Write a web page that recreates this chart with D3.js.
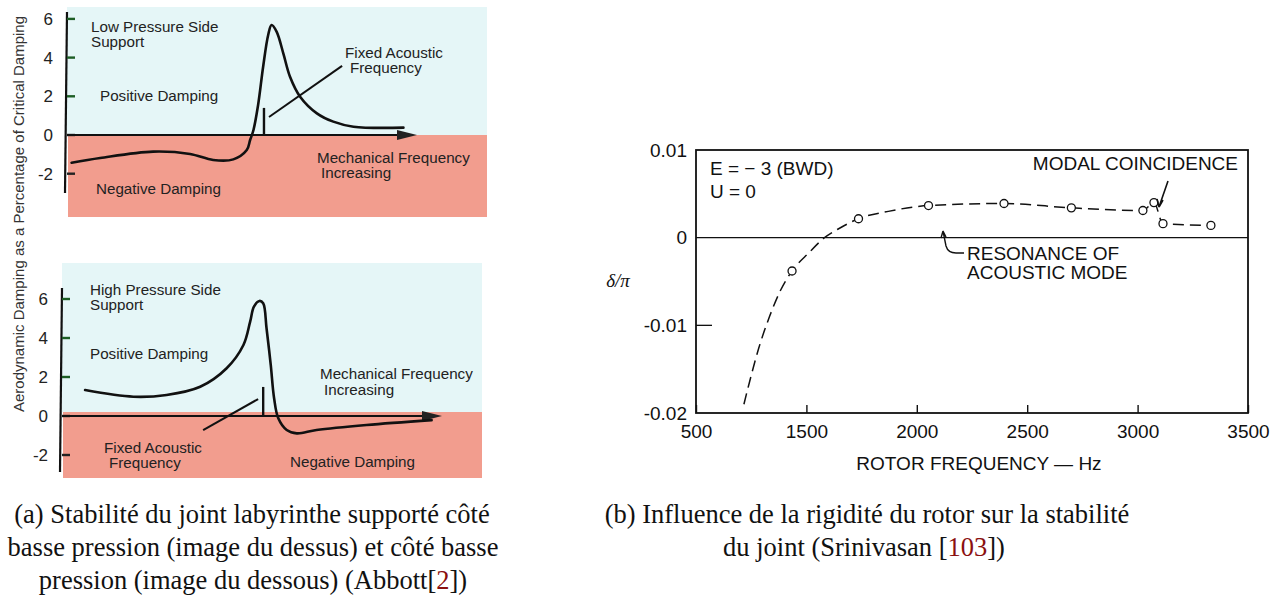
<!DOCTYPE html>
<html>
<head>
<meta charset="utf-8">
<script src="https://cdn.jsdelivr.net/npm/d3@7/dist/d3.min.js"></script>
<style>
  body { margin: 0; background: #fff; }
  svg { display: block; }
  .sans { font-family: "Liberation Sans", Arial, sans-serif; }
  .narrow { font-family: "Liberation Sans Narrow", "Arial Narrow", sans-serif; font-stretch: condensed; }
  .serif { font-family: "Liberation Serif", "Times New Roman", serif; }
</style>
</head>
<body>
<svg width="1283" height="603"></svg>
<script>
// ---- data (a): damping vs mechanical frequency (arbitrary units 0..10) ----
const dampTicks = [-2, 0, 2, 4, 6];
const lowSideCurve = [[0.11,-1.43],[0.79,-1.19],[2.05,-0.86],[2.93,-0.98],[3.48,-1.29],[3.96,-1.26],[4.28,-0.78],
  [4.36,-0.26],[4.44,0.26],[4.55,1.55],[4.67,3.53],[4.79,5.17],[4.87,5.68],[4.99,5.34],[5.15,4.22],[5.31,3.01],
  [5.55,1.98],[5.95,1.12],[6.34,0.69],[6.82,0.43],[8.01,0.38]];
const highSideCurve = [[0.55,1.33],[1.70,0.99],[2.49,1.08],[3.29,1.50],[3.92,2.45],[4.32,3.64],[4.48,4.84],
  [4.57,5.61],[4.70,5.90],[4.79,5.78],[4.87,4.5],[4.97,2.62],[5.05,0.91],[5.15,-0.12],[5.35,-0.72],[5.59,-0.89],
  [6.06,-0.72],[7.25,-0.46],[8.8,-0.21]];
const lowAcoustic = {x: 4.69, top: 1.4, leader: [[4.81,0.93],[6.55,3.57]]};
const highAcoustic = {x: 4.79, top: 1.49, leader: [[4.67,0.87],[3.36,-0.72]]};

// ---- data (b): delta/pi vs rotor frequency ----
const rotorTickValues = [1000, 1500, 2000, 2500, 3000, 3500];
const rotorTickLabels = ["500", "1500", "2000", "2500", "3000", "3500"];
const deltaTickValues = [0.01, 0, -0.01, -0.02];
const deltaTickLabels = ["0.01", "0", "-0.01", "-0.02"];
const curveFreq  = [1217, 1243, 1283, 1333, 1383, 1435, 1512, 1582, 1652, 1736, 1871, 2053, 2395, 2700, 3024, 3074, 3115, 3332];
const curveDelta = [-0.0190, -0.0164, -0.0127, -0.0090, -0.0060, -0.0038, -0.0017, 0, 0.0011, 0.00216, 0.0030, 0.00366, 0.0039, 0.0034, 0.0031, 0.0040, 0.0016, 0.0014];
const pointFreq  = [1435, 1736, 2053, 2395, 2700, 3024, 3074, 3115, 3332];
const pointDelta = [-0.0038, 0.00216, 0.00366, 0.0039, 0.0034, 0.0031, 0.0040, 0.0016, 0.0014];

const svg = d3.select("svg");
const CYAN = "#e5f6f7", SALMON = "#f29d8e";

function drawDampingPanel(cfg) {
    let g = svg.append("g");
    let x = d3.scaleLinear().domain([0, 10]).range([cfg.left, cfg.left + 420]);
    let y = d3.scaleLinear().domain([-2, 6]).range([cfg.zero + 2 * cfg.unit, cfg.zero - 6 * cfg.unit]);

    g.append("rect").attr("x", cfg.left).attr("y", cfg.top)
        .attr("width", 420).attr("height", cfg.split - cfg.top).attr("fill", CYAN);
    g.append("rect").attr("x", cfg.left + 1).attr("y", cfg.split)
        .attr("width", 419).attr("height", cfg.bottom - cfg.split).attr("fill", SALMON);

    // vertical axis
    g.append("line").attr("x1", cfg.left).attr("x2", cfg.left - 2)
        .attr("y1", cfg.axisTop).attr("y2", cfg.axisBottom)
        .attr("stroke", "#111").attr("stroke-width", 2.2);
    for (let t of dampTicks) {
        g.append("line").attr("x1", cfg.left).attr("x2", cfg.left + 8)
            .attr("y1", y(t)).attr("y2", y(t))
            .attr("stroke", t > 0 ? "#1d5e25" : "#222").attr("stroke-width", 2.4);
        g.append("text").attr("class", "narrow")
            .attr("x", cfg.left - 14).attr("y", y(t) + 6)
            .attr("text-anchor", "end").attr("font-size", 17).attr("fill", "#222")
            .text(t);
    }

    // horizontal axis with arrow
    g.append("line").attr("x1", cfg.left).attr("x2", cfg.arrowEnd - 16)
        .attr("y1", y(0)).attr("y2", y(0)).attr("stroke", "#111").attr("stroke-width", 2);
    g.append("path")
        .attr("d", `M${cfg.arrowEnd - 20},${y(0) - 5} L${cfg.arrowEnd},${y(0)} L${cfg.arrowEnd - 20},${y(0) + 5} Z`)
        .attr("fill", "#222");

    let line = d3.line().x(d => x(d[0])).y(d => y(d[1])).curve(d3.curveCatmullRom);
    g.append("path").datum(cfg.curve).attr("d", line)
        .attr("fill", "none").attr("stroke", "#111").attr("stroke-width", 2.6)
        .attr("stroke-linecap", "round");

    // fixed acoustic frequency marker
    let ac = cfg.acoustic;
    g.append("line").attr("x1", x(ac.x)).attr("x2", x(ac.x)).attr("y1", y(0)).attr("y2", y(ac.top))
        .attr("stroke", "#111").attr("stroke-width", 2.4);
    g.append("line").attr("x1", x(ac.leader[0][0])).attr("y1", y(ac.leader[0][1]))
        .attr("x2", x(ac.leader[1][0])).attr("y2", y(ac.leader[1][1]))
        .attr("stroke", "#111").attr("stroke-width", 2);

    for (let lab of cfg.labels) {
        g.append("text").attr("class", "sans").attr("x", lab[0]).attr("y", lab[1])
            .attr("font-size", 15.2).attr("fill", "#222").text(lab[2]);
    }
}

drawDampingPanel({
    left: 67, top: 7, split: 135, bottom: 217, zero: 135, unit: 19.35,
    axisTop: 12, axisBottom: 193, arrowEnd: 417,
    curve: lowSideCurve, acoustic: lowAcoustic,
    labels: [[91, 32, "Low Pressure Side"], [91, 47, "Support"], [100, 101, "Positive Damping"],
             [96, 194, "Negative Damping"], [317, 163, "Mechanical Frequency"], [321, 178, "Increasing"],
             [345, 58, "Fixed Acoustic"], [350, 73, "Frequency"]]
});
drawDampingPanel({
    left: 62, top: 263, split: 412, bottom: 478, zero: 416, unit: 19.5,
    axisTop: 288, axisBottom: 472, arrowEnd: 442,
    curve: highSideCurve, acoustic: highAcoustic,
    labels: [[90, 295, "High Pressure Side"], [90, 310, "Support"], [90, 359, "Positive Damping"],
             [320, 379, "Mechanical Frequency"], [324, 395, "Increasing"],
             [104, 453, "Fixed Acoustic"], [109, 468, "Frequency"], [290, 467, "Negative Damping"]]
});

svg.append("text").attr("class", "sans")
    .attr("transform", "translate(24,214) rotate(-90)")
    .attr("text-anchor", "middle").attr("font-size", 15).attr("fill", "#333")
    .text("Aerodynamic Damping as a Percentage of Critical Damping");

// ---- panel (b) ----
const xR = d3.scaleLinear().domain([1000, 3500]).range([696, 1248]);
const yR = d3.scaleLinear().domain([-0.02, 0.01]).range([413, 150]);
const gb = svg.append("g").attr("class", "sans");

gb.append("g")
    .attr("transform", "translate(0,413)")
    .call(d3.axisBottom(xR).tickValues(rotorTickValues)
        .tickFormat((d, i) => rotorTickLabels[i])
        .tickSizeInner(-8).tickSizeOuter(0).tickPadding(12))
    .call(a => a.select(".domain").remove())
    .call(a => a.selectAll("text").attr("font-size", 19).attr("fill", "#111").attr("font-family", "Liberation Sans, Arial, sans-serif"))
    .call(a => a.selectAll("line").attr("stroke", "#111").attr("stroke-width", 1.4));

gb.append("g")
    .attr("transform", "translate(696,0)")
    .call(d3.axisLeft(yR).tickValues(deltaTickValues)
        .tickFormat((d, i) => deltaTickLabels[i])
        .tickSizeInner(0).tickSizeOuter(0).tickPadding(9))
    .call(a => a.select(".domain").remove())
    .call(a => a.selectAll("text").attr("font-size", 19).attr("fill", "#111").attr("font-family", "Liberation Sans, Arial, sans-serif"));

// inward tick at -0.01
gb.append("line").attr("x1", xR(1000)).attr("x2", xR(1000) + 16)
    .attr("y1", yR(-0.01)).attr("y2", yR(-0.01)).attr("stroke", "#111").attr("stroke-width", 1.3);

gb.append("rect").attr("x", xR(1000)).attr("y", yR(0.01))
    .attr("width", xR(3500) - xR(1000)).attr("height", yR(-0.02) - yR(0.01))
    .attr("fill", "none").attr("stroke", "#111").attr("stroke-width", 1.8);
gb.append("line").attr("x1", xR(1000)).attr("x2", xR(3500))
    .attr("y1", yR(0)).attr("y2", yR(0)).attr("stroke", "#111").attr("stroke-width", 1.4);

const curveData = curveFreq.map((f, i) => [f, curveDelta[i]]);
const dline = d3.line().x(d => xR(d[0])).y(d => yR(d[1])).curve(d3.curveMonotoneX);
gb.append("path").datum(curveData).attr("d", dline)
    .attr("fill", "none").attr("stroke", "#111").attr("stroke-width", 1.5)
    .attr("stroke-dasharray", "11,6");

gb.selectAll("circle.pt").data(pointFreq).enter().append("circle")
    .attr("class", "pt")
    .attr("cx", d => xR(d)).attr("cy", (d, i) => yR(pointDelta[i]))
    .attr("r", 4).attr("fill", "#fff").attr("stroke", "#111").attr("stroke-width", 1.3);

// annotations
gb.append("text").attr("x", 710).attr("y", 175).attr("font-size", 19).attr("fill", "#111").text("E =  − 3 (BWD)");
gb.append("text").attr("x", 710).attr("y", 198).attr("font-size", 19).attr("fill", "#111").text("U = 0");
gb.append("text").attr("x", 1238).attr("y", 170).attr("text-anchor", "end").attr("font-size", 19).attr("fill", "#111").text("MODAL COINCIDENCE");
gb.append("path").attr("d", "M1168,181 L1159,207 M1159,207 L1157,199 M1159,207 L1163,200")
    .attr("fill", "none").attr("stroke", "#111").attr("stroke-width", 1.6);
gb.append("path").attr("d", "M943,231 L946,246 Q948,253 956,253 L964,253 M943,231 L941,238 M943,231 L946,237")
    .attr("fill", "none").attr("stroke", "#111").attr("stroke-width", 1.4);
gb.append("text").attr("x", 967).attr("y", 260).attr("font-size", 19).attr("fill", "#111").text("RESONANCE OF");
gb.append("text").attr("x", 967).attr("y", 279).attr("font-size", 19).attr("fill", "#111").text("ACOUSTIC MODE");
gb.append("text").attr("x", 979).attr("y", 470).attr("text-anchor", "middle").attr("font-size", 19).attr("fill", "#111").text("ROTOR FREQUENCY — Hz");
svg.append("text").attr("class", "serif").attr("x", 618).attr("y", 287).attr("text-anchor", "middle")
    .attr("font-size", 19).attr("font-style", "italic").attr("fill", "#111").text("δ/π");

// ---- captions ----
function caption(cx, cy, parts) {
    let t = svg.append("text").attr("class", "serif").attr("x", cx).attr("y", cy)
        .attr("text-anchor", "middle").attr("font-size", 26.5).attr("fill", "#111");
    for (let p of parts) {
        t.append("tspan").attr("fill", p[1] || "#111").text(p[0]);
    }
}
const REF = "#8b1010";
caption(252, 523, [["(a) Stabilité du joint labyrinthe supporté côté"]]);
caption(253, 556, [["basse pression (image du dessus) et côté basse"]]);
caption(253, 589, [["pression (image du dessous) (Abbott["], ["2", REF], ["])"]]);
caption(867, 523, [["(b) Influence de la rigidité du rotor sur la stabilité"]]);
caption(864, 556, [["du joint (Srinivasan ["], ["103", REF], ["])"]]);
</script>
</body>
</html>
